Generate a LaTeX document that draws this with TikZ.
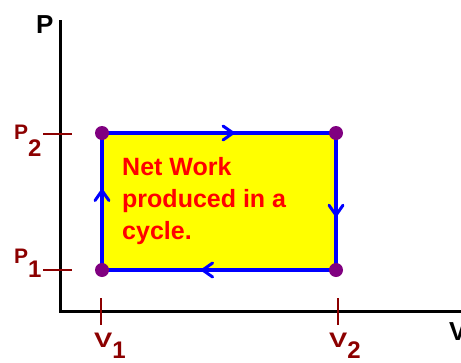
\documentclass[tikz,border=0pt]{standalone}
\usepackage{fontspec}
\setmainfont{Liberation Sans}
\usetikzlibrary{decorations.markings}
\definecolor{maroonc}{RGB}{140,0,0}
\definecolor{purpc}{RGB}{128,0,128}
\definecolor{bluec}{RGB}{0,0,255}
\definecolor{yellc}{RGB}{255,255,0}
\definecolor{redc}{RGB}{255,0,0}
\tikzset{
  axisline/.style={line width=3pt,black},
  tickline/.style={line width=1.5pt,maroonc},
  lab/.style={font=\bfseries\fontsize{21}{21}\selectfont,text=maroonc,inner sep=0pt},
  axlab/.style={font=\bfseries\fontsize{26}{26}\selectfont,text=black,inner sep=0pt},
  worktext/.style={font=\bfseries\fontsize{25}{25}\selectfont,text=redc,inner sep=0pt,anchor=base west},
  cycleedge/.style={line width=3.5pt,bluec,postaction={decorate},
    decoration={markings,mark=at position #1 with {\draw[bluec,line width=3pt,line cap=round,line join=miter] (-10pt,-7pt) -- (0pt,0pt) -- (-10pt,7pt);}}},
  statedot/.style={circle,fill=purpc,inner sep=0pt,minimum size=14pt},
}
\newcommand{\dg}[1]{{\fontsize{24}{24}\selectfont #1}}
\begin{document}
\begin{tikzpicture}[x=1pt,y=-1pt]
\clip (0,0) rectangle (461,362);
\useasboundingbox (0,0) rectangle (461,362);
% axes
\coordinate (ytop) at (60,20);
\coordinate (orig) at (60,311);
\coordinate (xend) at (470,311);
\draw[axisline] (ytop) -- (orig) -- (xend);
\node[axlab,anchor=base west] (plab) at (36,33) {P};
\node[axlab,anchor=base west] (vlab) at (449,340) {V};
% ticks
\coordinate (tp2a) at (43,134); \coordinate (tp2b) at (72,134);
\coordinate (tp1a) at (43,270); \coordinate (tp1b) at (72,270);
\coordinate (tv1a) at (101,298); \coordinate (tv1b) at (101,325);
\coordinate (tv2a) at (338,298); \coordinate (tv2b) at (338,325);
\draw[tickline] (tp2a) -- (tp2b);
\draw[tickline] (tp1a) -- (tp1b);
\draw[tickline] (tv1a) -- (tv1b);
\draw[tickline] (tv2a) -- (tv2b);
\node[lab,anchor=base west] (p2) at (14,139) {P\raisebox{-17pt}{\dg{2}}};
\node[lab,anchor=base west] (p1) at (14,263) {P\raisebox{-14pt}{\dg{1}}};
\node[lab,anchor=base west] (v1) at (94,347) {\scalebox{1.3}[1]{V}\raisebox{-11pt}{\dg{1}}};
\node[lab,anchor=base west] (v2) at (329,347) {\scalebox{1.3}[1]{V}\raisebox{-11pt}{\dg{2}}};
% cycle
\coordinate (a) at (102,270);
\coordinate (b) at (102,133);
\coordinate (c) at (336,133);
\coordinate (d) at (336,270);
\fill[yellc] (a) rectangle (c);
\draw[cycleedge=0.58] (a) -- (b);
\draw[cycleedge=0.56] (b) -- (c);
\draw[cycleedge=0.60] (c) -- (d);
\draw[cycleedge=0.57] (d) -- (a);
\node[statedot] (da) at (a) {};
\node[statedot] (db) at (b) {};
\node[statedot] (dc) at (c) {};
\node[statedot] (dd) at (d) {};
\node[worktext] (t1) at (122,175) {Net Work};
\node[worktext] (t2) at (122,207) {produced in a};
\node[worktext] (t3) at (122,239) {cycle.};
\end{tikzpicture}
\end{document}
